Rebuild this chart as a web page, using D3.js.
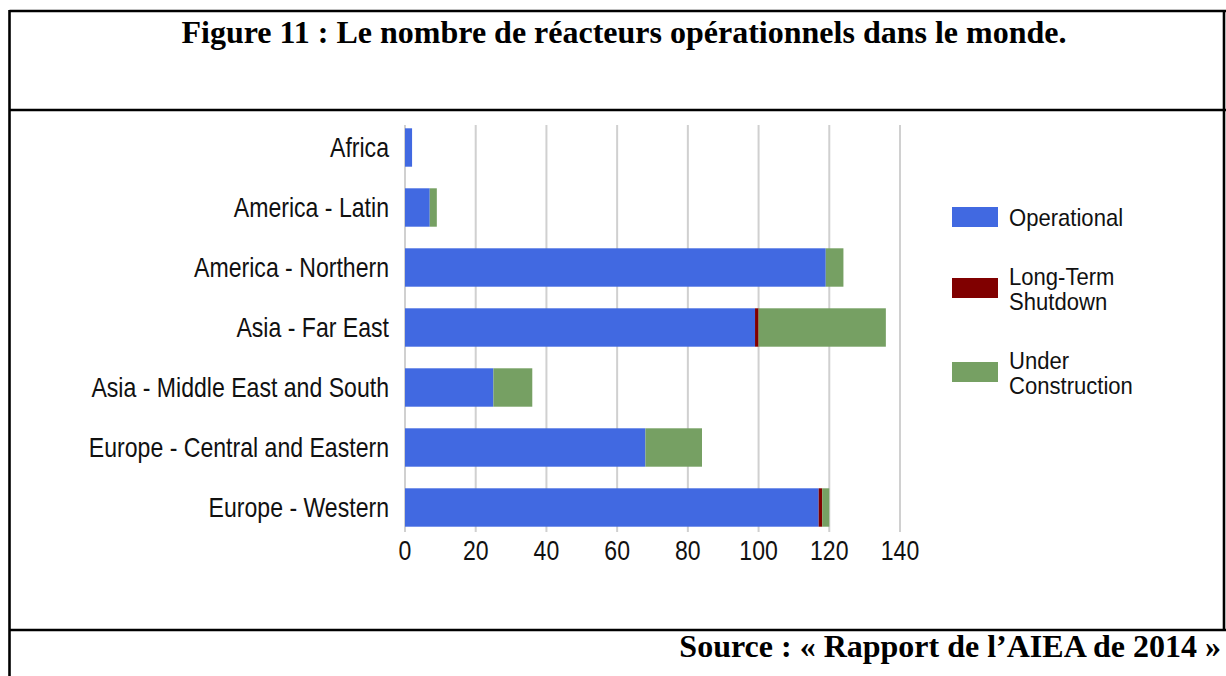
<!DOCTYPE html>
<html>
<head>
<meta charset="utf-8">
<script src="https://cdn.jsdelivr.net/npm/d3@7"></script>
<style>
    body { margin: 0; background: #fff; }
    svg { display: block; }
</style>
</head>
<body>
<svg id="chart" width="1226" height="676"></svg>
<script>
// Data (number of reactors per region)
const regions = [
    'Africa',
    'America - Latin',
    'America - Northern',
    'Asia - Far East',
    'Asia - Middle East and South',
    'Europe - Central and Eastern',
    'Europe - Western'
];
const operational = [2, 7, 119, 99, 25, 68, 117];
const longTermShutdown = [0, 0, 0, 1, 0, 0, 1];
const underConstruction = [0, 2, 5, 36, 11, 16, 2];

const seriesNames = ['Operational', 'Long-Term Shutdown', 'Under Construction'];
const seriesLabels = [['Operational'], ['Long-Term', 'Shutdown'], ['Under', 'Construction']];
const seriesColors = ['#4169e1', '#800000', '#76a063'];
const xTicks = [0, 20, 40, 60, 80, 100, 120, 140];

const titleText = 'Figure 11 : Le nombre de réacteurs opérationnels dans le monde.';
const sourceText = 'Source : « Rapport de l’AIEA de 2014 »';

const svg = d3.select('#chart');
const W = +svg.attr('width');
const H = +svg.attr('height');

// the chart font is a squeezed sans, so text gets a horizontal scale
const sx = 0.855;
const fontSans = '"Liberation Sans", Arial, sans-serif';
const fontSerif = '"Liberation Serif", "Times New Roman", serif';

// --- frame of the document table ---
const frame = svg.append('g').attr('stroke', '#000').attr('stroke-width', 2.6);
frame.append('line').attr('x1', 9.5).attr('x2', W).attr('y1', 11).attr('y2', 11);
frame.append('line').attr('x1', 9.5).attr('x2', W).attr('y1', 110).attr('y2', 110);
frame.append('line').attr('x1', 9.5).attr('x2', W).attr('y1', 630).attr('y2', 630);
frame.append('line').attr('x1', 9.5).attr('x2', 9.5).attr('y1', 10).attr('y2', H);
frame.append('line').attr('x1', 1224).attr('x2', 1224).attr('y1', 10).attr('y2', 631);

svg.append('text')
    .attr('x', 624)
    .attr('y', 43)
    .attr('text-anchor', 'middle')
    .attr('font-family', fontSerif)
    .attr('font-weight', 'bold')
    .attr('font-size', '32px')
    .text(titleText);

svg.append('text')
    .attr('x', 1221)
    .attr('y', 657)
    .attr('text-anchor', 'end')
    .attr('font-family', fontSerif)
    .attr('font-weight', 'bold')
    .attr('font-size', '32px')
    .text(sourceText);

// --- scales ---
const x = d3.scaleLinear().domain([0, 140]).range([405, 900]);
const y = d3.scaleBand().domain(regions).range([117.5, 537.5]).paddingInner(0.36).paddingOuter(0.18);

const plotTop = 125;
const plotBottom = 532;

// gridlines
svg.append('g')
    .selectAll('line')
    .data(xTicks)
    .join('line')
    .attr('x1', d => x(d))
    .attr('x2', d => x(d))
    .attr('y1', plotTop)
    .attr('y2', plotBottom)
    .attr('stroke', '#d0d0d0')
    .attr('stroke-width', 2);

// stacked bars
const rows = regions.map((r, i) => ({
    region: r,
    'Operational': operational[i],
    'Long-Term Shutdown': longTermShutdown[i],
    'Under Construction': underConstruction[i]
}));
const stacked = d3.stack().keys(seriesNames)(rows);

svg.append('g')
    .selectAll('g')
    .data(stacked)
    .join('g')
    .attr('fill', (d, i) => seriesColors[i])
    .selectAll('rect')
    .data(d => d.filter(p => p[1] > p[0]))
    .join('rect')
    .attr('x', d => x(d[0]))
    .attr('y', d => y(d.data.region))
    .attr('width', d => x(d[1]) - x(d[0]))
    .attr('height', y.bandwidth());

// category labels
svg.append('g')
    .selectAll('text')
    .data(regions)
    .join('text')
    .attr('transform', d => `translate(389,${y(d) + y.bandwidth() / 2 + 9.5}) scale(${sx},1)`)
    .attr('text-anchor', 'end')
    .attr('font-family', fontSans)
    .attr('font-size', '27px')
    .attr('fill', '#111')
    .text(d => d);

// x tick labels
svg.append('g')
    .selectAll('text')
    .data(xTicks)
    .join('text')
    .attr('transform', d => `translate(${x(d)},560) scale(${sx},1)`)
    .attr('text-anchor', 'middle')
    .attr('font-family', fontSans)
    .attr('font-size', '27px')
    .attr('fill', '#111')
    .text(d => d);

// legend
const legendY = [217, 288, 372];
const lineGap = 25;
const legend = svg.append('g');
seriesLabels.forEach((lines, i) => {
    legend.append('rect')
        .attr('x', 952)
        .attr('y', legendY[i] - 10)
        .attr('width', 46)
        .attr('height', 20)
        .attr('fill', seriesColors[i]);
    const startY = legendY[i] + 9 - (lines.length - 1) * 12;
    lines.forEach((t, j) => {
        legend.append('text')
            .attr('transform', `translate(1009,${startY + j * lineGap}) scale(0.92,1)`)
            .attr('font-family', fontSans)
            .attr('font-size', '24px')
            .attr('fill', '#111')
            .text(t);
    });
});
</script>
</body>
</html>
